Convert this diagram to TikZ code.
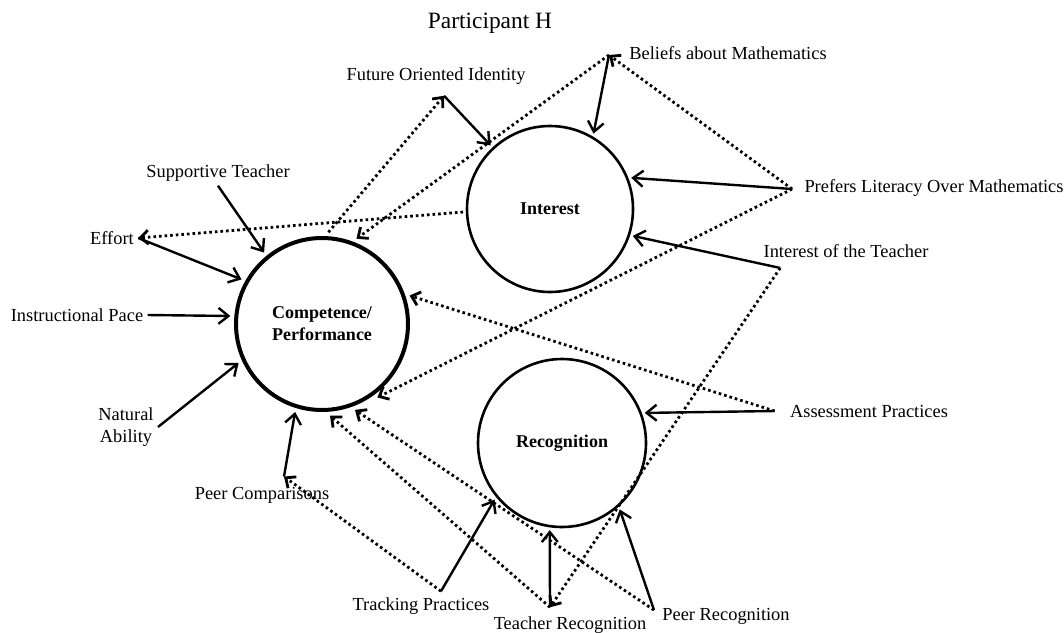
\documentclass[tikz,border=0pt]{standalone}
\usepackage{fontspec}
\setmainfont{Liberation Serif}
\usetikzlibrary{arrows.meta}
\begin{document}
\begin{tikzpicture}[x=0.5pt, y=-0.5pt]
\tikzstyle{lbl} = [inner sep=2pt, font=\fontsize{9.2}{11}\selectfont]
\tikzstyle{concept} = [circle, draw, line width=1.3pt, inner sep=0pt, outer sep=2pt, align=center, font=\bfseries\fontsize{9}{11}\selectfont]
\tikzstyle{solarr} = [-{Straight Barb[length=5pt,width=8pt]}, line width=1.2pt]
\tikzstyle{dotarr} = [-{Straight Barb[length=4pt,width=7pt]}, line width=1.4pt, dash pattern=on 1.3pt off 1.5pt]
\useasboundingbox (0,0) rectangle (1064,632);

\node[lbl, font=\fontsize{11.7}{14}\selectfont] (title) at (490,23) {Participant H};

\node[concept, minimum size=86pt, line width=2pt, outer sep=3pt] (comp) at (322,324) {Competence/\\Performance};
\node[concept, minimum size=83pt] (int) at (550,209) {Interest};
\node[concept, minimum size=84pt] (rec) at (562,443) {Recognition};

\node[lbl] (foi) at (436,76) {Future Oriented Identity};
\node[lbl] (bel) at (728,53) {Beliefs about Mathematics};
\node[lbl] (st) at (218,173) {Supportive Teacher};
\node[lbl] (effort) at (112,238) {Effort};
\node[lbl] (ip) at (77,315) {Instructional Pace};
\node[lbl, align=center] (na) at (126,427) {Natural\\Ability};
\node[lbl] (plom) at (934,188) {Prefers Literacy Over Mathematics};
\node[lbl] (iot) at (846,251) {Interest of the Teacher};
\node[lbl] (asp) at (869,411) {Assessment Practices};
\node[lbl] (pc) at (262,495) {Peer Comparisons};
\node[lbl] (tp) at (421,606) {Tracking Practices};
\node[lbl] (tr) at (570,625) {Teacher Recognition};
\node[lbl] (pr) at (726,616) {Peer Recognition};

\coordinate (foipt) at ([xshift=4pt,yshift=-3.5pt]foi.south);
\coordinate (belpt) at ([xshift=-8pt,yshift=-1pt]bel.west);
\coordinate (plompt) at ([xshift=-4pt,yshift=-0.5pt]plom.west);
\coordinate (iotpt) at ([xshift=10.5pt,yshift=-3pt]iot.south west);
\coordinate (asppt) at ([xshift=-5.5pt]asp.west);
\coordinate (tppt) at ([xshift=10pt,yshift=1pt]tp.north);
\coordinate (trpt) at ([xshift=-10pt,yshift=2.5pt]tr.north);
\coordinate (prpt) at ([xshift=-2pt,yshift=3pt]pr.west);
\coordinate (pcpt) at ([xshift=11pt,yshift=3pt]pc.north);

\draw[solarr] (st.south) -- (comp.129);
\draw[solarr] (effort.east) -- (comp.151);
\draw[solarr] (ip.east) -- (comp.175);
\draw[solarr] (na.east) -- (comp.205);
\draw[solarr] (pcpt) -- (comp.253);
\draw[solarr] (foipt) -- (int.133);
\draw[solarr] (belpt) -- (int.60);
\draw[solarr] (plompt) -- (int.21);
\draw[solarr] (iotpt) -- (int.342);
\draw[solarr] (asppt) -- (rec.20);
\draw[solarr] (tppt) -- (rec.220);
\draw[solarr] (trpt) -- (rec.262);
\draw[solarr] (prpt) -- (rec.311);

\draw[dotarr] (comp.86) -- (foipt);
\draw[dotarr] (belpt) -- (comp.68);
\draw[dotarr] (int.182) -- (effort.east);
\draw[dotarr] (plompt) -- (belpt);
\draw[dotarr] (plompt) -- (comp.307);
\draw[dotarr] (iotpt) -- (trpt);
\draw[dotarr] (asppt) -- (comp.18);
\draw[dotarr] (tppt) -- (pcpt);
\draw[dotarr] (trpt) -- (comp.275);
\draw[dotarr] (prpt) -- (comp.291);
\end{tikzpicture}
\end{document}
